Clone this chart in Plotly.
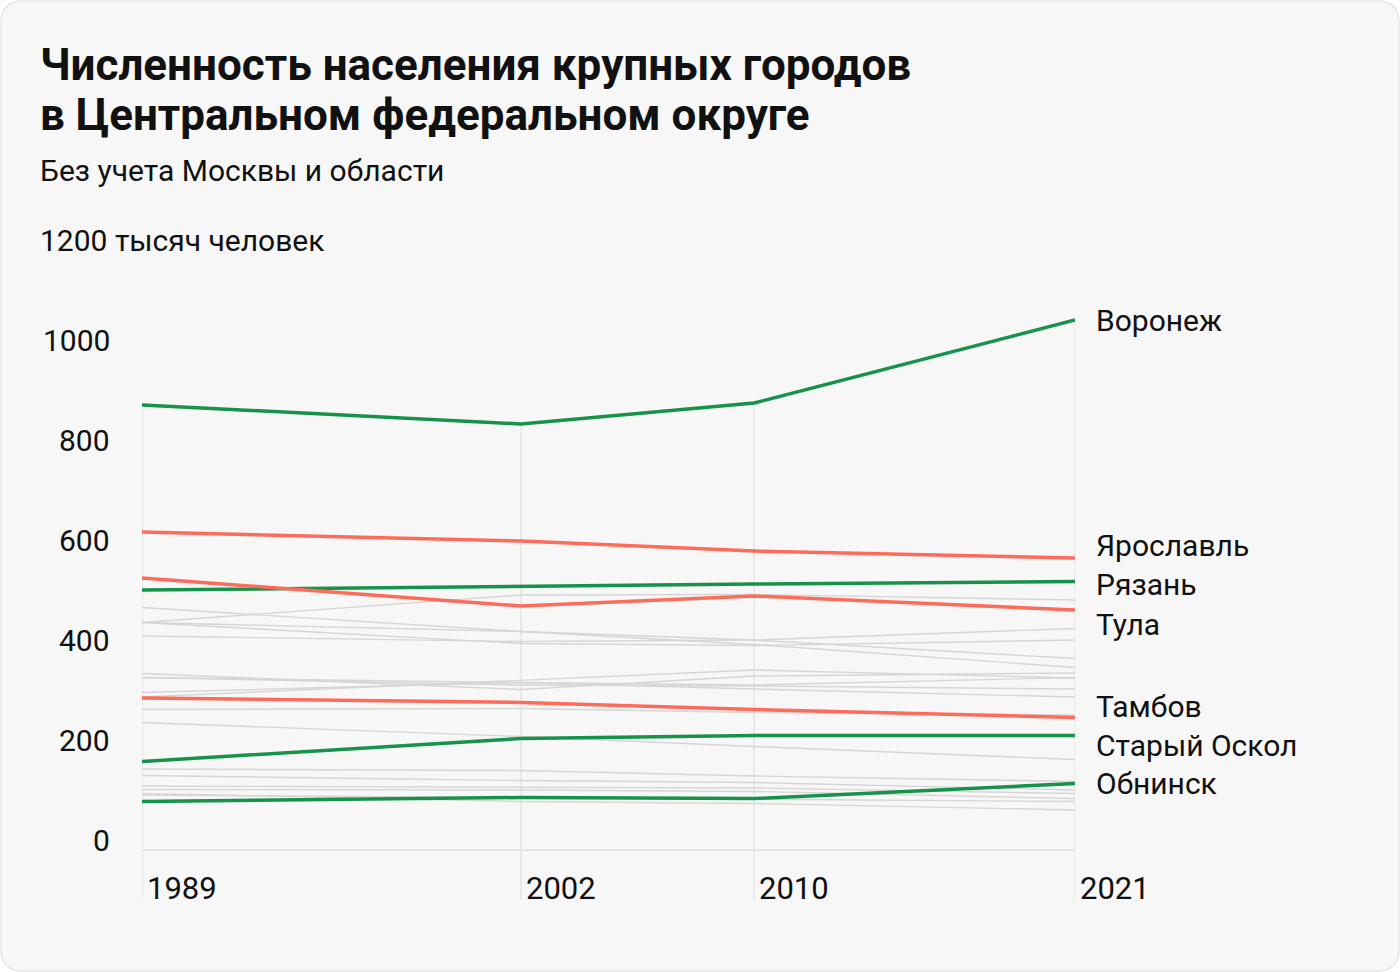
import plotly.graph_objects as go

# ---------------- data (thousand people) ----------------
years = [1989, 2002, 2010, 2021]

highlight_names = ["Воронеж", "Ярославль", "Рязань", "Тула", "Тамбов", "Старый Оскол", "Обнинск"]
voronezh = [890, 852, 894, 1060]
yaroslavl = [636, 618, 598, 584]
ryazan = [520, 528, 532, 537]
tula = [544, 488, 508, 480]
tambov = [304, 295, 281, 265]
stary_oskol = [177, 223, 229, 229]
obninsk = [97, 105, 103, 133]
highlight_values = [voronezh, yaroslavl, ryazan, tula, tambov, stary_oskol, obninsk]
highlight_kind = ["up", "down", "up", "down", "down", "up", "up"]
# vertical nudges of the right-hand labels (px) so they do not overlap
label_nudge = [0, 13, -3, -14, 11, -10, 0]

other_names = ["Липецк", "Иваново", "Брянск", "Тверь", "Курск", "Белгород", "Калуга",
               "Владимир", "Смоленск", "Орёл", "Кострома", "Рыбинск", "Ковров",
               "Новомосковск", "Муром", "Елец", "Железногорск", "Кинешма"]
lipetsk = [455, 510, 511, 500]
ivanovo = [485, 437, 411, 365]
bryansk = [455, 437, 420, 383]
tver = [455, 413, 409, 420]
kursk = [428, 417, 420, 443]
belgorod = [306, 340, 360, 344]
kaluga = [315, 335, 330, 345]
vladimir = [353, 321, 348, 354]
smolensk = [345, 330, 328, 322]
orel = [345, 335, 322, 306]
kostroma = [281, 283, 275, 270]
rybinsk = [255, 227, 207, 181]
kovrov = [162, 159, 148, 137]
novomoskovsk = [149, 139, 135, 120]
murom = [128, 125, 124, 113]
yelets = [121, 120, 117, 103]
zheleznogorsk = [110, 105, 102, 97]
kineshma = [113, 97, 93, 80]
other_values = [lipetsk, ivanovo, bryansk, tver, kursk, belgorod, kaluga, vladimir,
                 smolensk, orel, kostroma, rybinsk, kovrov, novomoskovsk, murom,
                 yelets, zheleznogorsk, kineshma]

y_ticks = [0, 200, 400, 600, 800, 1000]
y_top = 1200
y_unit = "тысяч человек"

title_lines = ["Численность населения крупных городов",
               "в Центральном федеральном округе"]
subtitle = "Без учета Москвы и области"

# ---------------- styling ----------------
W, H = 1400, 972
ML, MR, MT, MB = 142, 325, 250, 72
PW, PH = W - ML - MR, H - MT - MB
GREEN = "#17924b"
RED = "#ff6b5b"
GRAY = "#d6d6d6"
GRID = "#e4e4e4"
TEXT = "#111111"
FONT = "Roboto"
TXT = 30


def px_x(px):
    return (px - ML) / PW


def px_y(py):
    return (H - MB - py) / PH


fig = go.Figure()

for name, vals in zip(other_names, other_values):
    fig.add_trace(go.Scatter(x=years, y=vals, mode="lines", name=name,
                             line=dict(color=GRAY, width=1.4), hoverinfo="skip",
                             showlegend=False))

for name, vals, kind in zip(highlight_names, highlight_values, highlight_kind):
    fig.add_trace(go.Scatter(x=years, y=vals, mode="lines", name=name,
                             line=dict(color=GREEN if kind == "up" else RED, width=3.5),
                             showlegend=False))

shapes = []
# rounded card background
x0, y0, x1, y1, r = 1, 1, W - 1, H - 1, 22
pts = [
    ("M", x0 + r, y0), ("L", x1 - r, y0), ("Q", x1, y0, x1, y0 + r),
    ("L", x1, y1 - r), ("Q", x1, y1, x1 - r, y1), ("L", x0 + r, y1),
    ("Q", x0, y1, x0, y1 - r), ("L", x0, y0 + r), ("Q", x0, y0, x0 + r, y0),
]
path = ""
for p in pts:
    cmd = p[0]
    coords = p[1:]
    parts = []
    for i in range(0, len(coords), 2):
        parts.append(f"{px_x(coords[i]):.5f},{px_y(coords[i + 1]):.5f}")
    path += cmd + " ".join(parts) + " "
path += "Z"
shapes.append(dict(type="path", path=path, xref="paper", yref="paper",
                   fillcolor="#f7f7f7", line=dict(color="#e6e6e6", width=1.5),
                   layer="below"))

all_series = other_values + highlight_values
y_min = -100
for i, yr in enumerate(years):
    top = max(s[i] for s in all_series)
    shapes.append(dict(type="line", xref="x", yref="y", x0=yr, x1=yr, y0=y_min, y1=top,
                       line=dict(color=GRID, width=1.5), layer="below"))
shapes.append(dict(type="line", xref="x", yref="y", x0=years[0], x1=years[-1], y0=0, y1=0,
                   line=dict(color=GRID, width=2), layer="below"))

annotations = []
for line, cy in zip(title_lines, [65, 115]):
    annotations.append(dict(text=line, xref="paper", yref="paper", x=px_x(38), y=px_y(cy),
                            xanchor="left", yanchor="middle", showarrow=False,
                            font=dict(family=FONT, size=44, color=TEXT, weight=700)))
annotations.append(dict(text=subtitle, xref="paper", yref="paper", x=px_x(38), y=px_y(171),
                        xanchor="left", yanchor="middle", showarrow=False,
                        font=dict(family=FONT, size=TXT, color=TEXT)))

for v in y_ticks:
    annotations.append(dict(text=str(v), xref="paper", yref="y", x=px_x(112), y=v,
                            xanchor="right", yanchor="middle", yshift=10, showarrow=False,
                            font=dict(family=FONT, size=TXT, color=TEXT)))
annotations.append(dict(text=f"{y_top} {y_unit}", xref="paper", yref="y", x=px_x(38), y=y_top,
                        xanchor="left", yanchor="middle", yshift=10, showarrow=False,
                        font=dict(family=FONT, size=TXT, color=TEXT)))

for yr in years:
    annotations.append(dict(text=str(yr), xref="x", yref="y", x=yr, y=y_min,
                            xanchor="left", yanchor="middle", xshift=3, yshift=12,
                            showarrow=False, font=dict(family=FONT, size=31, color=TEXT)))

for name, vals, nudge in zip(highlight_names, highlight_values, label_nudge):
    annotations.append(dict(text=name, xref="x", yref="y", x=years[-1], y=vals[-1],
                            xanchor="left", yanchor="middle", xshift=19, yshift=nudge,
                            showarrow=False, font=dict(family=FONT, size=TXT, color=TEXT)))

fig.update_layout(
    width=W, height=H,
    margin=dict(l=ML, r=MR, t=MT, b=MB, pad=0),
    paper_bgcolor="#ffffff",
    plot_bgcolor="rgba(0,0,0,0)",
    showlegend=False,
    shapes=shapes,
    annotations=annotations,
    xaxis=dict(range=[years[0], years[-1]], visible=False, fixedrange=True),
    yaxis=dict(range=[y_min, y_top], visible=False, fixedrange=True),
    font=dict(family=FONT, color=TEXT),
)

fig.write_html("out.html", config={"displayModeBar": False},
               post_script="document.body.style.margin='0';document.body.style.overflow='hidden';")
